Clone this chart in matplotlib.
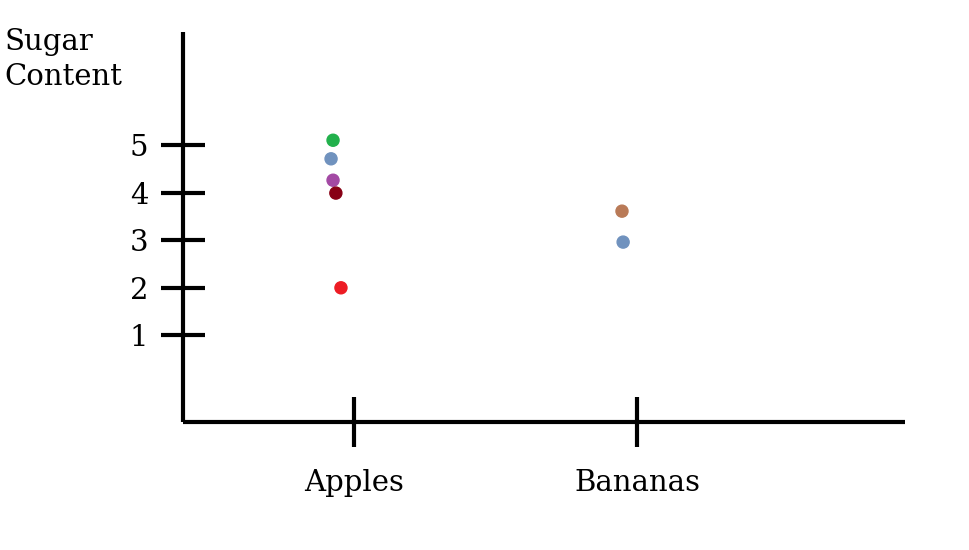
import matplotlib.pyplot as plt
import numpy as np

# data
categories = ["Apples", "Bananas"]
apples_sugar = [5.10, 4.71, 4.26, 3.99, 2.0]
apples_offset = [-0.074, -0.081, -0.074, -0.064, -0.046]
apples_colors = ["#22b14c", "#7092be", "#a349a4", "#880015", "#ed1c24"]
bananas_sugar = [3.61, 2.96]
bananas_offset = [-0.053, -0.049]
bananas_colors = ["#b97a57", "#7092be"]
yticks = [1, 2, 3, 4, 5]

plt.rcParams['font.family'] = ['DejaVu Serif']

fig = plt.figure(figsize=(9.7, 5.5), dpi=100)
ax = fig.add_axes([0.1887, 0.2327, 0.7443, 0.7091])

xpos = np.arange(1, len(categories) + 1)
ax.scatter(xpos[0] + np.array(apples_offset), apples_sugar, c=apples_colors, s=75, zorder=3)
ax.scatter(xpos[1] + np.array(bananas_offset), bananas_sugar, c=bananas_colors, s=75, zorder=3)

ax.set_xlim(0.396, 2.947)
ax.set_ylim(-0.82, 7.374)

for s in ['top', 'right']:
    ax.spines[s].set_visible(False)
for s in ['left', 'bottom']:
    ax.spines[s].set_linewidth(3)
    ax.spines[s].set_capstyle('butt')

ax.set_xticks(xpos)
ax.set_xticklabels(categories)
ax.set_yticks(yticks)
ax.tick_params(axis='x', direction='inout', length=36, width=3, labelsize=21, pad=16)
ax.tick_params(axis='y', direction='inout', length=32, width=3, labelsize=21, pad=9)

fig.text(0.005, 0.95, "Sugar\nContent", fontsize=21, va='top', ha='left', linespacing=1.35)

fig.savefig("out.png", dpi=100)
